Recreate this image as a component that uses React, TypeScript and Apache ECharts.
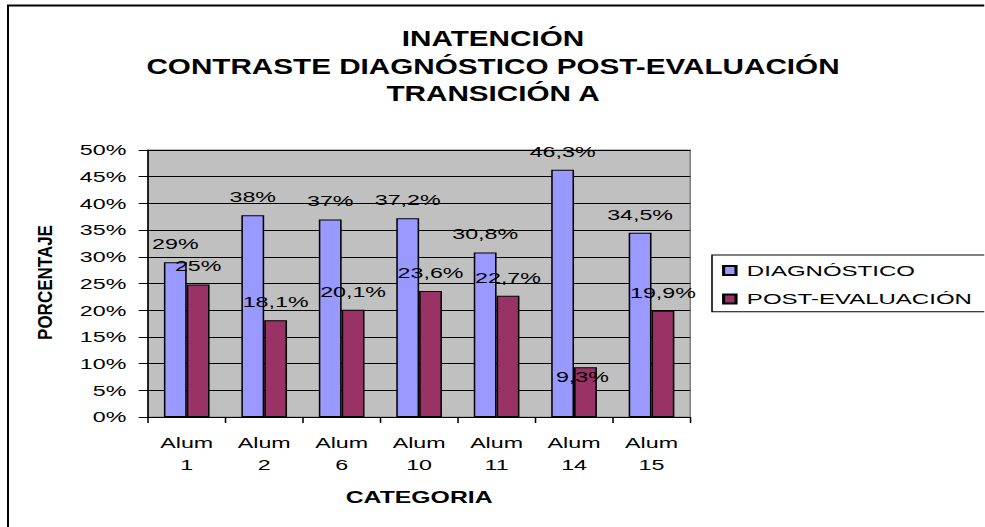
import React, { useEffect, useRef } from "react";
import * as echarts from "echarts";

// horizontal stretch of the reference picture
const SX = 1.55;
const W = 985;
const H = 527;
const PW = W / SX;
const X = (v: number) => v / SX;

const FONT = "'Liberation Sans', Arial, sans-serif";

const categories = ["Alum\n1", "Alum\n2", "Alum\n6", "Alum\n10", "Alum\n11", "Alum\n14", "Alum\n15"];
const diagnostico = [29, 37.8, 37, 37.2, 30.8, 46.3, 34.5];
const postEvaluacion = [24.8, 18.1, 20.1, 23.6, 22.7, 9.3, 19.9];
const diagLabels = ["29%", "38%", "37%", "37,2%", "30,8%", "46,3%", "34,5%"];
const postLabels = ["25%", "18,1%", "20,1%", "23,6%", "22,7%", "9,3%", "19,9%"];
const seriesNames = ["DIAGNÓSTICO", "POST-EVALUACIÓN"];
const titleLines = ["INATENCIÓN", "CONTRASTE DIAGNÓSTICO POST-EVALUACIÓN", "TRANSICIÓN A"];
const yMin = 0;
const yMax = 50;
const yStep = 5;

// the one data label that sits lower in the reference (manually moved there)
const MOVED_POST_LABEL = 5;

export default function App() {
  const ref = useRef<HTMLDivElement>(null);
  useEffect(() => {
    if (!ref.current) return;
    const chart = echarts.init(ref.current, null, { renderer: "svg" });
    const titleY = [38, 66, 93];
    chart.setOption({
      animation: false,
      backgroundColor: "#fff",
      textStyle: { fontFamily: FONT },
      grid: {
        left: X(148),
        right: PW - X(691),
        top: 150,
        bottom: H - 417,
        show: true,
        backgroundColor: "#C0C0C0",
        borderColor: "#808080",
        borderWidth: 1,
      },
      legend: {
        orient: "vertical",
        left: X(712),
        top: 255,
        itemWidth: 8,
        itemHeight: 9,
        itemGap: 12.5,
        padding: [7.5, 10, 4.7, 6.5],
        borderColor: "#000",
        borderWidth: 1,
        icon: "rect",
        data: seriesNames,
        textStyle: { fontSize: 15.5, color: "#000", fontFamily: FONT, padding: [0, 0, 0, 2] },
      },
      xAxis: {
        type: "category",
        data: categories,
        axisLine: { show: true, lineStyle: { color: "#000", width: 1 } },
        axisTick: { show: true, length: 6, lineStyle: { color: "#000" } },
        axisLabel: { fontSize: 15, lineHeight: 22, margin: 15, color: "#000", fontFamily: FONT },
        name: "CATEGORIA",
        nameLocation: "middle",
        nameGap: 72,
        nameTextStyle: { fontSize: 16, fontWeight: "bold", color: "#000", fontFamily: FONT },
      },
      yAxis: {
        type: "value",
        min: yMin,
        max: yMax,
        interval: yStep,
        axisLine: { show: true, lineStyle: { color: "#000", width: 1 } },
        axisTick: { show: true, length: 6, lineStyle: { color: "#000" } },
        axisLabel: { formatter: "{value}%", fontSize: 15, margin: 14, color: "#000", fontFamily: FONT },
        splitLine: { show: true, lineStyle: { color: "#000", width: 1 } },
      },
      series: [
        {
          name: seriesNames[0],
          type: "bar",
          data: diagnostico,
          barGap: "0%",
          barCategoryGap: "41%",
          itemStyle: { color: "#9999FF", borderColor: "#000", borderWidth: 1 },
          label: {
            show: true,
            position: "top",
            distance: 11,
            fontSize: 15,
            color: "#000",
            fontFamily: FONT,
            formatter: (p: any) => diagLabels[p.dataIndex],
          },
        },
        {
          name: seriesNames[1],
          type: "bar",
          data: postEvaluacion.map((v, i) =>
            i === MOVED_POST_LABEL ? { value: v, label: { offset: [-2, 28] } } : v
          ),
          itemStyle: { color: "#993366", borderColor: "#000", borderWidth: 1 },
          label: {
            show: true,
            position: "top",
            distance: 11,
            fontSize: 15,
            color: "#000",
            fontFamily: FONT,
            formatter: (p: any) => postLabels[p.dataIndex],
          },
        },
      ],
      graphic: [
        {
          type: "line",
          shape: { x1: X(8), y1: 5.5, x2: X(8), y2: H + 5 },
          style: { stroke: "#000", lineWidth: 2 / SX },
        },
        {
          type: "line",
          shape: { x1: X(7), y1: 5.5, x2: PW + 5, y2: 5.5 },
          style: { stroke: "#000", lineWidth: 2 },
        },
        ...titleLines.map((t, i) => ({
          type: "text",
          x: X(493),
          y: titleY[i],
          scaleX: 0.87,
          style: {
            text: t,
            fill: "#000",
            fontSize: 22,
            fontWeight: "bold",
            fontFamily: FONT,
            textAlign: "center",
            textVerticalAlign: "middle",
            align: "center",
            verticalAlign: "middle",
          },
        })),
        {
          type: "text",
          x: X(45),
          y: 282.5,
          rotation: Math.PI / 2,
          scaleY: 0.742,
          style: {
            text: "PORCENTAJE",
            fill: "#000",
            fontSize: 17,
            fontWeight: "bold",
            fontFamily: FONT,
            textAlign: "center",
            textVerticalAlign: "middle",
            align: "center",
            verticalAlign: "middle",
          },
        },
      ],
    });
    return () => chart.dispose();
  }, []);
  return (
    <div
      style={{
        position: "absolute",
        left: 0,
        top: 0,
        width: W,
        height: H,
        overflow: "hidden",
        background: "#fff",
      }}
    >
      <div
        ref={ref}
        style={{
          width: PW,
          height: H,
          transform: `scaleX(${SX})`,
          transformOrigin: "0 0",
        }}
      />
    </div>
  );
}
